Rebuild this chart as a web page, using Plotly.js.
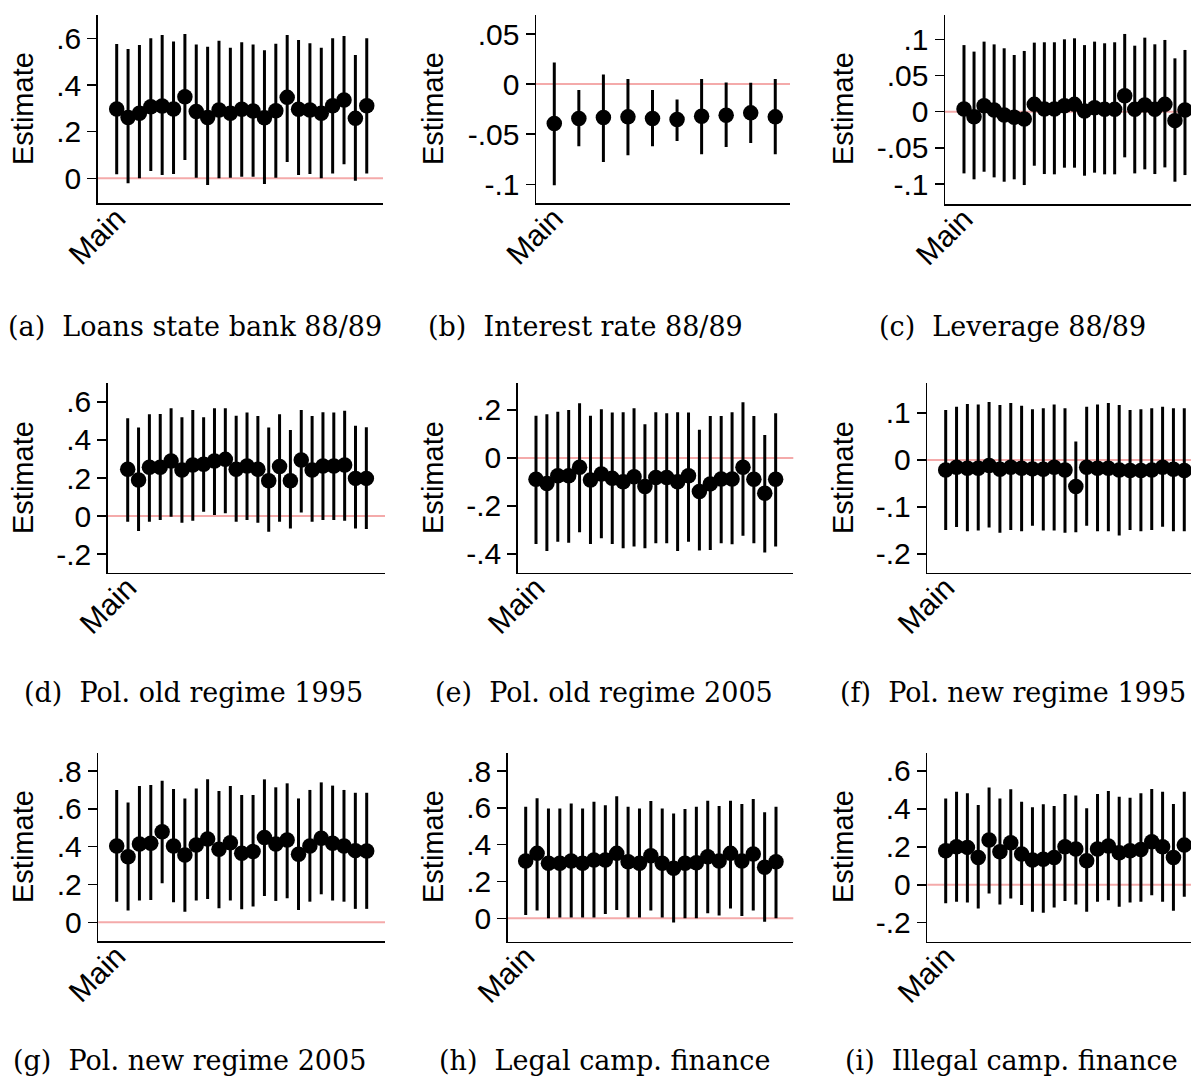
<!DOCTYPE html>
<html><head><meta charset="utf-8">
<script src="https://cdn.plot.ly/plotly-3.0.1.min.js"></script>
<style>html,body{margin:0;padding:0;background:#fff;overflow:hidden}</style>
</head><body><div id="chart" style="width:1191px;height:1078px"></div>
<script>
// ---- data (estimate, lower CI, upper CI) ----
const estA = [0.297,0.261,0.279,0.307,0.31,0.297,0.35,0.286,0.261,0.293,0.279,0.296,0.289,0.26,0.29,0.347,0.296,0.293,0.279,0.311,0.336,0.257,0.311];
const hiA  = [0.576,0.554,0.571,0.60,0.614,0.586,0.619,0.574,0.564,0.59,0.56,0.583,0.574,0.549,0.577,0.614,0.593,0.579,0.56,0.60,0.61,0.529,0.60];
const loA  = [0.017,-0.021,0.0,0.031,0.014,0.019,0.079,0.003,-0.029,0.0,0.003,0.007,0.007,-0.024,0.003,0.07,0.014,0.019,0.0,0.021,0.06,-0.01,0.021];

const estB = [-0.0393,-0.0343,-0.0333,-0.0327,-0.0343,-0.0353,-0.032,-0.031,-0.0287,-0.0327];
const hiB  = [0.0217,-0.006,0.0097,0.005,-0.006,-0.0153,0.005,0.0017,0.0013,0.005];
const loB  = [-0.101,-0.062,-0.0777,-0.071,-0.062,-0.0567,-0.07,-0.0627,-0.0587,-0.07];

const estC = [0.0037,-0.0069,0.0083,0.0023,-0.0046,-0.0078,-0.0101,0.0101,0.0037,0.0037,0.0083,0.0101,0.0009,0.0055,0.0032,0.0032,0.0221,0.0032,0.0092,0.0032,0.0101,-0.0124,0.0023];
const hiC  = [0.092,0.083,0.0968,0.093,0.0876,0.0783,0.0839,0.0954,0.0959,0.0959,0.1,0.1014,0.092,0.0968,0.0945,0.0959,0.1074,0.0912,0.1023,0.0931,0.0991,0.0737,0.0853];
const loC  = [-0.0853,-0.0935,-0.083,-0.0908,-0.0968,-0.0935,-0.1014,-0.0747,-0.0862,-0.0866,-0.0774,-0.0774,-0.0885,-0.0843,-0.0866,-0.0866,-0.0631,-0.0853,-0.0797,-0.0862,-0.077,-0.0968,-0.0876];

const estD = [0.246,0.19,0.256,0.256,0.289,0.242,0.268,0.272,0.289,0.298,0.246,0.263,0.246,0.186,0.26,0.186,0.295,0.242,0.263,0.263,0.268,0.198,0.198];
const hiD  = [0.514,0.465,0.535,0.537,0.567,0.519,0.558,0.519,0.567,0.567,0.528,0.544,0.526,0.465,0.535,0.453,0.558,0.526,0.546,0.544,0.553,0.475,0.467];
const loD  = [-0.03,-0.079,-0.03,-0.021,-0.004,-0.035,-0.025,0.023,0.005,0.014,-0.03,-0.021,-0.035,-0.083,-0.03,-0.065,0.018,-0.03,-0.021,-0.021,-0.025,-0.065,-0.068];

const estE = [-0.089,-0.106,-0.074,-0.074,-0.039,-0.092,-0.067,-0.085,-0.099,-0.078,-0.119,-0.081,-0.081,-0.099,-0.074,-0.14,-0.108,-0.088,-0.088,-0.039,-0.089,-0.147,-0.089];
const hiE  = [0.176,0.182,0.193,0.2,0.228,0.176,0.203,0.189,0.19,0.207,0.14,0.19,0.186,0.19,0.189,0.117,0.175,0.175,0.19,0.232,0.175,0.096,0.186];
const loE  = [-0.358,-0.388,-0.349,-0.353,-0.31,-0.358,-0.335,-0.358,-0.376,-0.369,-0.376,-0.355,-0.355,-0.388,-0.349,-0.386,-0.383,-0.355,-0.36,-0.324,-0.355,-0.394,-0.369];

const estF = [-0.0213,-0.0156,-0.0177,-0.0177,-0.012,-0.0199,-0.0156,-0.0177,-0.0191,-0.0199,-0.0156,-0.0213,-0.0567,-0.0156,-0.0177,-0.0177,-0.0213,-0.0227,-0.0227,-0.0213,-0.0156,-0.0199,-0.0227];
const hiF  = [0.106,0.113,0.119,0.118,0.123,0.117,0.121,0.115,0.108,0.11,0.118,0.11,0.039,0.113,0.118,0.121,0.117,0.106,0.108,0.11,0.113,0.11,0.11];
const loF  = [-0.149,-0.143,-0.152,-0.15,-0.144,-0.155,-0.149,-0.152,-0.14,-0.15,-0.15,-0.155,-0.154,-0.14,-0.152,-0.152,-0.161,-0.149,-0.152,-0.149,-0.142,-0.152,-0.152];

const estG = [0.404,0.347,0.414,0.418,0.479,0.404,0.356,0.409,0.441,0.386,0.421,0.365,0.374,0.449,0.414,0.435,0.36,0.404,0.444,0.418,0.404,0.379,0.377];
const hiG  = [0.70,0.634,0.721,0.726,0.749,0.705,0.655,0.708,0.756,0.694,0.721,0.673,0.673,0.756,0.714,0.735,0.655,0.70,0.74,0.723,0.70,0.685,0.685];
const loG  = [0.109,0.062,0.115,0.118,0.206,0.106,0.056,0.115,0.123,0.074,0.115,0.069,0.083,0.139,0.113,0.127,0.065,0.109,0.148,0.115,0.109,0.071,0.071];

const estH = [0.311,0.353,0.299,0.299,0.311,0.299,0.317,0.317,0.353,0.308,0.299,0.34,0.299,0.272,0.299,0.302,0.335,0.311,0.353,0.311,0.349,0.277,0.308];
const hiH  = [0.606,0.652,0.597,0.597,0.624,0.597,0.633,0.615,0.664,0.606,0.597,0.637,0.597,0.57,0.594,0.606,0.639,0.61,0.639,0.621,0.648,0.576,0.606];
const loH  = [0.018,0.042,0.0,0.004,0.004,0.005,0.004,0.024,0.045,0.004,0.004,0.042,0.004,-0.022,0.0,0.0,0.027,0.015,0.054,0.013,0.042,-0.018,0.0];

const estI = [0.179,0.2,0.197,0.144,0.236,0.174,0.222,0.162,0.13,0.134,0.144,0.2,0.188,0.127,0.188,0.204,0.169,0.179,0.186,0.227,0.2,0.144,0.209];
const hiI  = [0.455,0.49,0.482,0.42,0.513,0.455,0.503,0.438,0.408,0.424,0.415,0.478,0.47,0.403,0.478,0.494,0.464,0.459,0.482,0.505,0.49,0.426,0.49];
const loI  = [-0.098,-0.09,-0.093,-0.125,-0.046,-0.104,-0.072,-0.107,-0.142,-0.148,-0.12,-0.086,-0.104,-0.142,-0.09,-0.081,-0.116,-0.093,-0.09,-0.055,-0.09,-0.137,-0.063];

// ---- tick values / labels ----
const tvA = [0,0.2,0.4,0.6];            const ttA = ['0','.2','.4','.6'];
const tvB = [-0.1,-0.05,0,0.05];        const ttB = ['-.1','-.05','0','.05'];
const tvC = [-0.1,-0.05,0,0.05,0.1];    const ttC = ['-.1','-.05','0','.05','.1'];
const tvD = [-0.2,0,0.2,0.4,0.6];       const ttD = ['-.2','0','.2','.4','.6'];
const tvE = [-0.4,-0.2,0,0.2];          const ttE = ['-.4','-.2','0','.2'];
const tvF = [-0.2,-0.1,0,0.1];          const ttF = ['-.2','-.1','0','.1'];
const tvG = [0,0.2,0.4,0.6,0.8];        const ttG = ['0','.2','.4','.6','.8'];
const tvH = [0,0.2,0.4,0.6,0.8];        const ttH = ['0','.2','.4','.6','.8'];
const tvI = [-0.2,0,0.2,0.4,0.6];       const ttI = ['-.2','0','.2','.4','.6'];

const xLabel = ['Main'];
const yTitle = 'Estimate';
const captions = ['(a)  Loans state bank 88/89','(b)  Interest rate 88/89','(c)  Leverage 88/89',
                  '(d)  Pol. old regime 1995','(e)  Pol. old regime 2005','(f)  Pol. new regime 1995',
                  '(g)  Pol. new regime 2005','(h)  Legal camp. finance','(i)  Illegal camp. finance'];

// ---- layout geometry (pixels) ----
const W = 1191, H = 1078;
const panels = [
  {est:estA, lo:loA, hi:hiA, tv:tvA, tt:ttA, xd:[97.7,383],   yd:[15,203.3],   xr:[-0.672,24.43], yr:[-0.107,0.70]},
  {est:estB, lo:loB, hi:hiB, tv:tvB, tt:ttB, xd:[536,790],    yd:[15,203.3],   xr:[0.255,10.6],   yr:[-0.119,0.069]},
  {est:estC, lo:loC, hi:hiC, tv:tvC, tt:ttC, xd:[945,1191],   yd:[15,204],     xr:[-0.891,23.6],  yr:[-0.1276,0.1336]},
  {est:estD, lo:loD, hi:hiD, tv:tvD, tt:ttD, xd:[107.7,385],  yd:[383.3,572.7],xr:[-0.844,24.72], yr:[-0.298,0.698]},
  {est:estE, lo:loE, hi:hiE, tv:tvE, tt:ttE, xd:[517.7,793.3],yd:[383.3,572.7],xr:[-0.68,24.62],  yr:[-0.478,0.311]},
  {est:estF, lo:loF, hi:hiF, tv:tvF, tt:ttF, xd:[927.3,1191], yd:[383.3,572.7],xr:[-0.697,23.62], yr:[-0.24,0.163]},
  {est:estG, lo:loG, hi:hiG, tv:tvG, tt:ttG, xd:[98.3,385],   yd:[752.7,941],  xr:[-0.619,24.61], yr:[-0.099,0.897]},
  {est:estH, lo:loH, hi:hiH, tv:tvH, tt:ttH, xd:[507.7,793.3],yd:[752.7,941.7],xr:[-0.582,24.52], yr:[-0.127,0.90]},
  {est:estI, lo:loI, hi:hiI, tv:tvI, tt:ttI, xd:[927.3,1191], yd:[752.7,941.7],xr:[-0.697,23.62], yr:[-0.30,0.696]}
];
const titleX = [23,433,843];
const titleY = [109,478,847];
const capPos = [[195,326],[585,326],[1013,326],[193,692],[604,692],[1013,692],[189,1060],[604,1060],[1011,1060]];

const sansFont = 'Liberation Sans, Arial, Helvetica, sans-serif';
const serifFont = 'DejaVu Serif, Liberation Serif, serif';

const traces = [], shapes = [], annotations = [];
const layout = {
  width: W, height: H, margin:{l:0,r:0,t:0,b:0},
  paper_bgcolor:'#fff', plot_bgcolor:'#fff', showlegend:false,
  font:{family:sansFont, color:'#000'}
};

panels.forEach((p, k) => {
  const n = k + 1, sx = n === 1 ? '' : String(n);
  const xs = p.est.map((_, i) => i + 1);
  traces.push({
    type:'scatter', mode:'markers', x: xs, y: p.est,
    xaxis:'x'+sx, yaxis:'y'+sx, cliponaxis:true,
    marker:{size:15.5, color:'#000'},
    error_y:{type:'data', symmetric:false,
      array: p.hi.map((h, i) => h - p.est[i]),
      arrayminus: p.est.map((e, i) => e - p.lo[i]),
      thickness:3, width:0, color:'#000'},
    hoverinfo:'skip'
  });
  layout['xaxis'+sx] = {
    domain:[p.xd[0]/W, p.xd[1]/W], anchor:'y'+sx, range:p.xr,
    showline:true, linecolor:'#000', linewidth:1.5, showgrid:false, zeroline:false,
    tickmode:'array', tickvals:[1], ticktext:xLabel, tickangle:-45, ticks:'',
    ticklabelstandoff:-16,
    tickfont:{family:sansFont, size:30, color:'#000'}, fixedrange:true
  };
  layout['yaxis'+sx] = {
    domain:[1 - p.yd[1]/H, 1 - p.yd[0]/H], anchor:'x'+sx, range:p.yr,
    showline:true, linecolor:'#000', linewidth:1.5, showgrid:false, zeroline:false,
    tickmode:'array', tickvals:p.tv, ticktext:p.tt, ticks:'outside', ticklen:9,
    tickwidth:1.5, tickcolor:'#000',
    tickfont:{family:sansFont, size:30, color:'#000'}, fixedrange:true
  };
  shapes.push({type:'line', xref:'x'+sx+' domain', x0:0, x1:1, yref:'y'+sx, y0:0, y1:0,
    line:{color:'#f4aaaa', width:2}, layer:'below'});
  annotations.push({xref:'paper', yref:'paper', x:titleX[k%3]/W, y:1 - titleY[Math.floor(k/3)]/H,
    text:yTitle, textangle:-90, showarrow:false, xanchor:'center', yanchor:'middle',
    font:{family:sansFont, size:29, color:'#000'}});
  annotations.push({xref:'paper', yref:'paper', x:capPos[k][0]/W, y:1 - capPos[k][1]/H,
    text:captions[k], showarrow:false, xanchor:'center', yanchor:'middle',
    font:{family:serifFont, size:27, color:'#000'}});
});
layout.shapes = shapes;
layout.annotations = annotations;

Plotly.newPlot('chart', traces, layout, {staticPlot:true, displayModeBar:false});
</script></body></html>
